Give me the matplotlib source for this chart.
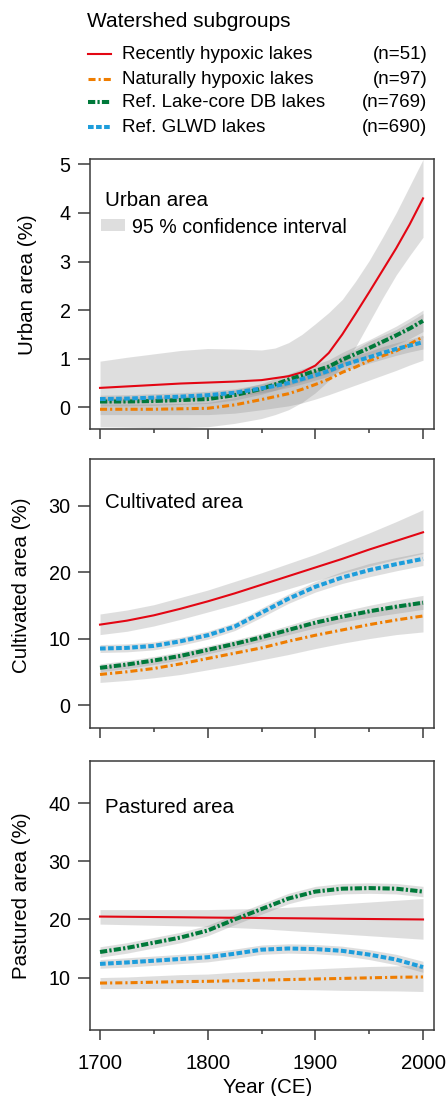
import matplotlib
matplotlib.use("Agg")
import matplotlib.pyplot as plt
from matplotlib.lines import Line2D
from matplotlib.patches import Rectangle

plt.rcParams['font.family'] = ['Liberation Sans', 'DejaVu Sans']

# ---- data ----
years = [1700, 1725, 1750, 1775, 1800, 1825, 1850, 1875, 1900, 1925, 1950, 1975, 2000]
# urban panel curves bend sharply after 1850, so it is read on a finer grid
urban_years = [1700, 1725, 1750, 1775, 1800, 1825, 1850, 1862.5, 1875, 1887.5,
               1900, 1912.5, 1925, 1937.5, 1950, 1962.5, 1975, 1987.5, 2000]

group_names = ["Recently hypoxic lakes", "Naturally hypoxic lakes",
               "Ref. Lake-core DB lakes", "Ref. GLWD lakes"]
group_counts = ["(n=51)", "(n=97)", "(n=769)", "(n=690)"]

# Urban area (%)
urban_red = [0.40, 0.43, 0.46, 0.49, 0.51, 0.53, 0.56, 0.60, 0.64, 0.72,
             0.86, 1.12, 1.50, 1.93, 2.37, 2.82, 3.27, 3.76, 4.30]
urban_red_lo = [-0.40, -0.41, -0.42, -0.42, -0.40, -0.33, -0.23, -0.15, -0.05, 0.10,
                0.30, 0.55, 0.85, 1.25, 1.75, 2.25, 2.72, 3.12, 3.50]
urban_red_hi = [0.95, 1.03, 1.10, 1.17, 1.21, 1.20, 1.18, 1.22, 1.33, 1.50,
                1.72, 1.95, 2.22, 2.60, 3.02, 3.50, 4.00, 4.55, 5.10]
urban_orange = [-0.04, -0.04, -0.04, -0.03, -0.02, 0.05, 0.16, 0.22, 0.28, 0.37,
                0.47, 0.58, 0.72, 0.83, 0.96, 1.06, 1.16, 1.30, 1.45]
urban_orange_lo = [-0.15, -0.15, -0.15, -0.15, -0.15, -0.12, -0.05, -0.01, 0.03, 0.09,
                   0.17, 0.26, 0.36, 0.46, 0.56, 0.66, 0.76, 0.87, 0.97]
urban_orange_hi = [0.07, 0.07, 0.07, 0.08, 0.10, 0.20, 0.37, 0.45, 0.53, 0.64,
                   0.77, 0.90, 1.06, 1.20, 1.36, 1.48, 1.60, 1.76, 1.93]
urban_green = [0.12, 0.12, 0.13, 0.15, 0.17, 0.25, 0.38, 0.47, 0.57, 0.66,
               0.75, 0.84, 0.98, 1.10, 1.22, 1.35, 1.48, 1.62, 1.78]
urban_green_lo = [0.03, 0.03, 0.04, 0.06, 0.08, 0.15, 0.27, 0.35, 0.45, 0.53,
                  0.62, 0.70, 0.83, 0.94, 1.05, 1.17, 1.29, 1.41, 1.56]
urban_green_hi = [0.21, 0.21, 0.22, 0.24, 0.26, 0.35, 0.49, 0.59, 0.69, 0.79,
                  0.88, 0.98, 1.13, 1.26, 1.39, 1.53, 1.67, 1.83, 2.00]
urban_blue = [0.17, 0.18, 0.20, 0.22, 0.25, 0.30, 0.39, 0.44, 0.50, 0.58,
              0.66, 0.75, 0.86, 0.95, 1.03, 1.12, 1.20, 1.27, 1.34]
urban_blue_lo = [0.09, 0.10, 0.12, 0.14, 0.17, 0.22, 0.30, 0.35, 0.41, 0.48,
                 0.56, 0.64, 0.75, 0.83, 0.91, 0.99, 1.07, 1.14, 1.20]
urban_blue_hi = [0.25, 0.26, 0.28, 0.30, 0.33, 0.38, 0.48, 0.53, 0.59, 0.68,
                 0.76, 0.86, 0.97, 1.07, 1.15, 1.25, 1.33, 1.40, 1.48]

# Cultivated area (%)
cult_red = [12.1, 12.7, 13.5, 14.5, 15.6, 16.8, 18.1, 19.4, 20.7, 22.0, 23.4, 24.7, 26.0]
cult_red_lo = [10.6, 11.1, 11.9, 12.9, 14.0, 15.1, 16.3, 17.5, 18.7, 19.8, 20.9, 21.9, 22.8]
cult_red_hi = [13.7, 14.3, 15.1, 16.2, 17.3, 18.6, 19.9, 21.3, 22.7, 24.3, 25.9, 27.6, 29.4]
cult_orange = [4.6, 5.0, 5.5, 6.2, 7.0, 7.8, 8.6, 9.6, 10.5, 11.3, 12.1, 12.8, 13.4]
cult_orange_lo = [3.4, 3.7, 4.1, 4.6, 5.3, 6.0, 6.8, 7.6, 8.5, 9.3, 10.0, 10.6, 11.0]
cult_orange_hi = [5.8, 6.3, 6.9, 7.8, 8.7, 9.6, 10.4, 11.6, 12.5, 13.3, 14.2, 15.0, 15.8]
cult_green = [5.6, 6.1, 6.7, 7.4, 8.3, 9.2, 10.2, 11.3, 12.4, 13.3, 14.1, 14.8, 15.4]
cult_green_lo = [5.0, 5.5, 6.1, 6.8, 7.7, 8.6, 9.6, 10.6, 11.6, 12.5, 13.2, 13.8, 14.4]
cult_green_hi = [6.2, 6.7, 7.3, 8.0, 8.9, 9.8, 10.8, 12.0, 13.2, 14.1, 15.0, 15.8, 16.5]
cult_blue = [8.5, 8.6, 8.9, 9.6, 10.5, 11.8, 13.9, 16.0, 17.8, 19.2, 20.3, 21.2, 22.0]
cult_blue_lo = [7.9, 8.0, 8.3, 9.0, 9.9, 11.2, 13.2, 15.3, 17.0, 18.3, 19.3, 20.2, 21.0]
cult_blue_hi = [9.1, 9.2, 9.5, 10.2, 11.1, 12.4, 14.6, 16.7, 18.6, 20.1, 21.3, 22.2, 23.0]

# Pastured area (%)
past_red = [20.5, 20.46, 20.42, 20.38, 20.33, 20.29, 20.25, 20.21, 20.17, 20.12, 20.08, 20.04, 20.0]
past_red_lo = [19.2, 19.1, 19.0, 18.9, 18.8, 18.6, 18.4, 18.1, 17.8, 17.5, 17.2, 16.9, 16.6]
past_red_hi = [21.7, 21.7, 21.7, 21.7, 21.7, 21.8, 21.9, 22.1, 22.4, 22.7, 23.0, 23.3, 23.6]
past_orange = [9.05, 9.1, 9.2, 9.3, 9.35, 9.45, 9.55, 9.65, 9.75, 9.85, 9.95, 10.05, 10.1]
past_orange_lo = [8.1, 8.1, 8.1, 8.1, 8.1, 8.05, 8.0, 7.95, 7.9, 7.8, 7.75, 7.7, 7.6]
past_orange_hi = [10.0, 10.1, 10.3, 10.5, 10.6, 10.9, 11.1, 11.3, 11.5, 11.7, 11.9, 12.0, 12.1]
past_green = [14.4, 15.1, 16.0, 16.9, 18.1, 20.0, 21.8, 23.6, 24.8, 25.3, 25.4, 25.3, 24.8]
past_green_lo = [13.5, 14.2, 15.1, 16.0, 17.2, 19.1, 20.9, 22.7, 23.9, 24.4, 24.5, 24.4, 23.9]
past_green_hi = [15.3, 16.0, 16.9, 17.8, 19.0, 20.9, 22.7, 24.5, 25.7, 26.2, 26.3, 26.2, 25.7]
past_blue = [12.35, 12.6, 12.9, 13.2, 13.5, 14.1, 14.8, 15.0, 14.9, 14.6, 13.95, 13.1, 11.8]
past_blue_lo = [11.6, 11.8, 12.1, 12.4, 12.7, 13.3, 14.0, 14.2, 14.1, 13.8, 13.1, 12.2, 10.9]
past_blue_hi = [13.1, 13.4, 13.7, 14.0, 14.3, 14.9, 15.6, 15.8, 15.7, 15.4, 14.8, 14.0, 12.8]

# ---- styles ----
colors = ['#E30613', '#EF7D00', '#00793A', '#1D9DDB']
widths = [1.5, 2.2, 2.9, 2.9]
dash_list = [None, (2.3, 1.0, 0.7, 1.0), (1.8, 0.55, 0.55, 0.55), (1.4, 0.6)]
band_color = '#7f7f7f'
frame_color = '#3a3a3a'

W, H = 446, 1096
fig = plt.figure(figsize=(W / 100, H / 100), dpi=100)


def add_panel(top, bottom):
    return fig.add_axes([90 / W, 1 - bottom / H, 344 / W, (bottom - top) / H])


def style_line(line, i):
    if dash_list[i] is not None:
        line.set_dashes(dash_list[i])


def draw_panel(ax, xs, series, ylim, yticks, title, title_y, ylabel, label_xy, xlabels=False):
    for vals, lo, hi in series:
        ax.fill_between(xs, lo, hi, color=band_color, alpha=0.25, lw=0)
    for i, (vals, lo, hi) in enumerate(series):
        ln, = ax.plot(xs, vals, color=colors[i], lw=widths[i])
        style_line(ln, i)
    ax.set_xlim(1690.7, 2010.2)
    ax.set_ylim(*ylim)
    ax.set_yticks(yticks)
    ax.set_xticks([1700, 1800, 1900, 2000])
    ax.set_xticks([1750, 1850, 1950], minor=True)
    ax.tick_params(axis='y', direction='out', length=9, width=1.1, color=frame_color,
                   labelsize=14.2, pad=5)
    ax.tick_params(axis='x', which='major', direction='out', length=7.5, width=1.1,
                   color=frame_color, labelsize=14.7, pad=10)
    ax.tick_params(axis='x', which='minor', direction='out', length=3, width=1.1,
                   color=frame_color)
    if not xlabels:
        ax.tick_params(axis='x', labelbottom=False)
    for s in ax.spines.values():
        s.set_color(frame_color)
        s.set_linewidth(1.1)
    ax.text(0.0436, title_y, title, transform=ax.transAxes, fontsize=14.8, va='baseline')
    ax.set_ylabel(ylabel, fontsize=14.8)
    ax.yaxis.set_label_coords(*label_xy)


ax1 = add_panel(159, 429)
draw_panel(ax1, urban_years,
           [(urban_red, urban_red_lo, urban_red_hi),
            (urban_orange, urban_orange_lo, urban_orange_hi),
            (urban_green, urban_green_lo, urban_green_hi),
            (urban_blue, urban_blue_lo, urban_blue_hi)],
           (-0.446, 5.11), [0, 1, 2, 3, 4, 5], "Urban area", 0.827,
           "Urban area (%)", (-0.153, 0.533))
ax1.add_patch(Rectangle((0.032, 0.734), 0.07, 0.043, transform=ax1.transAxes,
                        facecolor='#dedede', edgecolor='none'))
ax1.text(0.121, 0.727, "95 % confidence interval", transform=ax1.transAxes,
         fontsize=14.1, va='baseline')

ax2 = add_panel(459, 728)
draw_panel(ax2, years,
           [(cult_red, cult_red_lo, cult_red_hi),
            (cult_orange, cult_orange_lo, cult_orange_hi),
            (cult_green, cult_green_lo, cult_green_hi),
            (cult_blue, cult_blue_lo, cult_blue_hi)],
           (-3.46, 37.03), [0, 10, 20, 30], "Cultivated area", 0.817,
           "Cultivated area (%)", (-0.172, 0.532))

ax3 = add_panel(761, 1030)
draw_panel(ax3, years,
           [(past_red, past_red_lo, past_red_hi),
            (past_orange, past_orange_lo, past_orange_hi),
            (past_green, past_green_lo, past_green_hi),
            (past_blue, past_blue_lo, past_blue_hi)],
           (0.97, 47.28), [10, 20, 30, 40], "Pastured area", 0.806,
           "Pastured area (%)", (-0.172, 0.499), xlabels=True)
ax3.set_xlabel("Year (CE)", fontsize=14.8)
ax3.xaxis.set_label_coords(0.516, -0.18)

# ---- legend on top ----
fig.text(87.3 / W, 1 - 26.7 / H, "Watershed subgroups", fontsize=15, va='baseline')
key_rows = [54.3, 78.6, 102.3, 127.3]
for i, (name, cnt) in enumerate(zip(group_names, group_counts)):
    yk = 1 - key_rows[i] / H
    yb = 1 - (key_rows[i] + 5) / H
    key = Line2D([88 / W, 111 / W], [yk, yk], transform=fig.transFigure,
                 color=colors[i], lw=widths[i])
    style_line(key, i)
    fig.add_artist(key)
    fig.text(122.3 / W, yb, name, fontsize=13.5, va='baseline')
    fig.text(427.3 / W, yb, cnt, fontsize=13.5, va='baseline', ha='right')

fig.savefig('out.png', dpi=100)
